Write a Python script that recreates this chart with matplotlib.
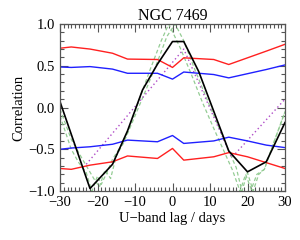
import matplotlib
matplotlib.use("Agg")
import matplotlib.pyplot as plt
from matplotlib.ticker import MultipleLocator

# ---- data ----
lags_rb = [-30, -27, -22, -16, -12, -4, 0, 3, 11, 15, 20, 25, 30]
red_upper = [0.71, 0.725, 0.70, 0.65, 0.58, 0.575, 0.48, 0.595, 0.575, 0.515, 0.595, 0.675, 0.757]
blue_upper = [0.485, 0.48, 0.49, 0.46, 0.41, 0.41, 0.34, 0.425, 0.395, 0.355, 0.405, 0.455, 0.51]
blue_lower = [-0.50, -0.485, -0.47, -0.44, -0.39, -0.41, -0.335, -0.43, -0.40, -0.355, -0.40, -0.45, -0.48]
red_lower = [-0.73, -0.74, -0.69, -0.65, -0.58, -0.61, -0.49, -0.63, -0.59, -0.54, -0.59, -0.66, -0.73]

lags_black = [-30, -22, -16, -12, -8, -4, 0, 3, 7, 15, 20, 25, 30]
black = [0.07, -0.97, -0.68, -0.28, 0.21, 0.52, 0.79, 0.79, 0.43, -0.52, -0.77, -0.65, -0.18]

lags_purple = [-23, 3, 15.8, 30]
purple = [-0.68, 0.70, -0.60, 0.10]

lags_green_a = [-30, -27, -25, -23, -21.5, -20, -19, -17.5, -16, -14, -12, -9, -6, -3, -1,
                2, 5, 8, 11, 14, 16, 18, 19.5, 21, 22.5, 24.5, 27, 30]
green_a = [-0.10, -0.50, -0.66, -0.78, -1.00, -0.82, -0.92, -0.78, -0.62, -0.48, -0.30, 0.08, 0.45, 0.80, 1.00,
           0.72, 0.40, 0.06, -0.25, -0.55, -0.75, -1.00, -0.80, -0.98, -0.80, -0.74, -0.42, -0.05]
lags_green_b = [-30, -27, -24, -21, -19.5, -18, -16.5, -15, -13, -10, -7, -4, -1.5, 0.7,
                3, 6, 9, 12, 15, 17, 18.5, 20, 21.5, 23, 24.5, 27, 30]
green_b = [-0.02, -0.38, -0.62, -0.85, -0.95, -0.75, -0.85, -0.58, -0.42, -0.10, 0.22, 0.55, 0.85, 1.00,
           0.80, 0.45, 0.12, -0.20, -0.52, -0.72, -1.00, -0.78, -1.00, -0.80, -0.74, -0.42, -0.05]

xticks = [-30, -20, -10, 0, 10, 20, 30]
yticks = [-1.0, -0.5, 0.0, 0.5, 1.0]

plt.rcParams['font.family'] = ['Liberation Serif', 'DejaVu Serif']
plt.rcParams['axes.unicode_minus'] = True

fig = plt.figure(figsize=(3.0, 2.4), dpi=100)
ax = fig.add_axes([0.2, 0.204, 0.75, 0.696])

gc = '#94cc94'
ax.plot(lags_green_a, green_a, color=gc, lw=0.9, ls=(0, (3, 2)))
ax.plot(lags_green_b, green_b, color=gc, lw=0.9, ls=(0, (3, 2)))
ax.plot(lags_purple, purple, color='#b04cc8', lw=1.0, ls=(0, (1, 2)))
ax.plot(lags_rb, red_upper, color='#ff2020', lw=1.0)
ax.plot(lags_rb, red_lower, color='#ff2020', lw=1.0)
ax.plot(lags_rb, blue_upper, color='#2020ff', lw=1.0)
ax.plot(lags_rb, blue_lower, color='#2020ff', lw=1.0)
ax.plot(lags_black, black, color='black', lw=1.2)

ax.set_xlim(-30, 30)
ax.set_ylim(-1.0, 1.0)
ax.set_xticks(xticks)
ax.set_xticklabels([f"{t:d}".replace('-', '\u2212') for t in xticks])
ax.set_yticks(yticks)
ax.set_yticklabels([f"{t:.1f}".replace('-', '\u2212') for t in yticks])
ax.xaxis.set_minor_locator(MultipleLocator(1))
ax.yaxis.set_minor_locator(MultipleLocator(0.1))
ax.tick_params(which='both', direction='in', top=True, right=True, colors='#555555',
               labelcolor='black', labelsize=10.5, width=0.8)
ax.tick_params(which='major', length=6)
ax.tick_params(which='minor', length=3)
for s in ax.spines.values():
    s.set_color('#555555')
    s.set_linewidth(0.9)

ax.set_title('NGC 7469', fontsize=11.5, pad=3)
ax.set_ylabel('Correlation', fontsize=10.5, labelpad=2)
ax.set_xlabel('U\u2212band lag / days', fontsize=10.5, labelpad=2)

fig.savefig('out.png', dpi=100)
